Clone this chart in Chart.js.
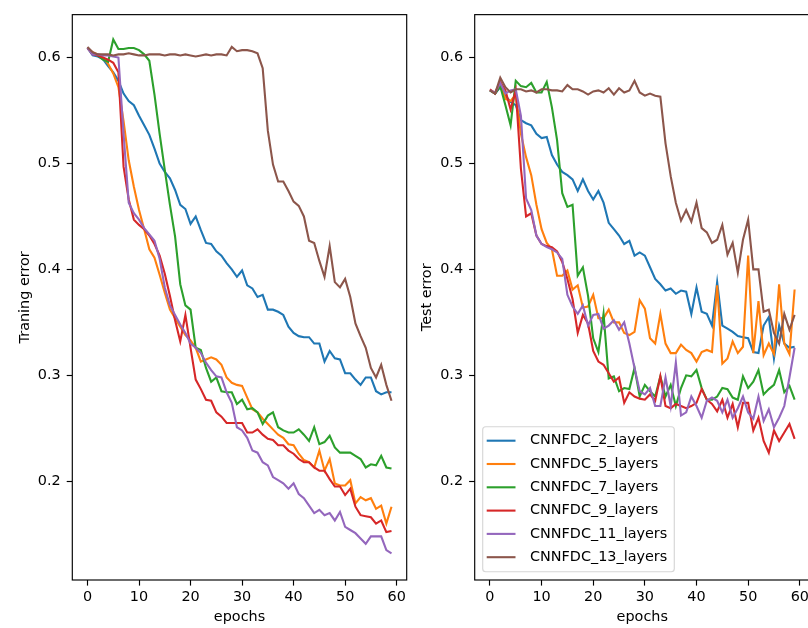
<!DOCTYPE html>
<html><head><meta charset="utf-8">
<script src="https://cdn.jsdelivr.net/npm/chart.js@4.4.1/dist/chart.umd.min.js"></script>
<style>
html,body{margin:0;padding:0;background:#fff;overflow:hidden;width:808px;height:628px;position:relative;}
canvas{position:absolute;top:0;}
#c1{left:0;} #c2{left:404px;}
</style></head><body>
<canvas id="c1" width="420" height="628"></canvas>
<canvas id="c2" width="408" height="628"></canvas>
<script>
const epochs = [0,1,2,3,4,5,6,7,8,9,10,11,12,13,14,15,16,17,18,19,20,21,22,23,24,25,26,27,28,29,30,31,32,33,34,35,36,37,38,39,40,41,42,43,44,45,46,47,48,49,50,51,52,53,54,55,56,57,58,59];
const seriesNames = ["CNNFDC_2_layers","CNNFDC_5_layers","CNNFDC_7_layers","CNNFDC_9_layers","CNNFDC_11_layers","CNNFDC_13_layers"];
const xTicks = [0,10,20,30,40,50,60];
const yTicks = [0.2,0.3,0.4,0.5,0.6];

// Training error
const train2 = [0.609,0.602,0.601,0.5985,0.592,0.586,0.578,0.566,0.559,0.555,0.545,0.536,0.527,0.514,0.500,0.492,0.486,0.475,0.461,0.457,0.443,0.450,0.437,0.425,0.424,0.417,0.413,0.406,0.400,0.393,0.399,0.385,0.382,0.374,0.376,0.362,0.362,0.360,0.357,0.346,0.340,0.337,0.336,0.336,0.330,0.330,0.313,0.323,0.316,0.315,0.302,0.302,0.296,0.291,0.298,0.298,0.285,0.282,0.284,0.284];
const train5 = [0.609,0.605,0.603,0.600,0.594,0.585,0.572,0.540,0.503,0.478,0.456,0.438,0.419,0.411,0.395,0.378,0.362,0.354,0.346,0.338,0.333,0.326,0.313,0.315,0.317,0.315,0.310,0.298,0.293,0.291,0.290,0.279,0.268,0.265,0.259,0.254,0.249,0.244,0.241,0.235,0.234,0.226,0.220,0.218,0.213,0.229,0.210,0.221,0.198,0.196,0.196,0.201,0.179,0.185,0.182,0.184,0.174,0.177,0.160,0.176];
const train7 = [0.609,0.604,0.602,0.598,0.596,0.617,0.608,0.608,0.609,0.609,0.607,0.603,0.597,0.565,0.528,0.494,0.461,0.431,0.386,0.366,0.362,0.326,0.324,0.307,0.294,0.298,0.285,0.284,0.284,0.273,0.277,0.268,0.269,0.265,0.254,0.262,0.265,0.251,0.248,0.246,0.246,0.249,0.244,0.238,0.251,0.235,0.237,0.243,0.232,0.227,0.227,0.227,0.224,0.221,0.213,0.216,0.215,0.224,0.213,0.212];
const train9 = [0.609,0.603,0.602,0.600,0.598,0.595,0.586,0.497,0.466,0.447,0.442,0.438,0.432,0.424,0.413,0.396,0.375,0.352,0.332,0.357,0.326,0.296,0.287,0.277,0.276,0.265,0.261,0.255,0.255,0.255,0.255,0.246,0.246,0.249,0.244,0.240,0.239,0.234,0.234,0.229,0.226,0.221,0.218,0.218,0.213,0.210,0.210,0.202,0.195,0.195,0.187,0.193,0.176,0.168,0.167,0.166,0.160,0.163,0.152,0.153];
const train11 = [0.609,0.603,0.603,0.602,0.602,0.601,0.600,0.528,0.463,0.453,0.447,0.439,0.433,0.427,0.410,0.383,0.366,0.357,0.348,0.340,0.330,0.326,0.321,0.312,0.305,0.299,0.298,0.284,0.274,0.251,0.248,0.241,0.229,0.227,0.218,0.215,0.204,0.201,0.198,0.193,0.198,0.188,0.184,0.177,0.170,0.173,0.168,0.170,0.163,0.171,0.157,0.154,0.151,0.146,0.141,0.148,0.148,0.148,0.135,0.132];
const train13 = [0.610,0.605,0.603,0.603,0.603,0.602,0.603,0.603,0.604,0.603,0.602,0.602,0.603,0.603,0.603,0.602,0.603,0.603,0.602,0.603,0.602,0.601,0.602,0.603,0.602,0.603,0.603,0.602,0.610,0.606,0.607,0.607,0.606,0.604,0.590,0.531,0.499,0.483,0.483,0.474,0.464,0.460,0.450,0.427,0.425,0.408,0.393,0.422,0.388,0.383,0.391,0.374,0.349,0.337,0.326,0.307,0.298,0.310,0.291,0.276];

// Test error
const test2 = [0.569,0.566,0.572,0.564,0.558,0.555,0.541,0.538,0.536,0.528,0.524,0.525,0.508,0.499,0.492,0.489,0.485,0.474,0.485,0.474,0.466,0.474,0.463,0.444,0.438,0.432,0.424,0.427,0.413,0.416,0.413,0.402,0.391,0.386,0.380,0.382,0.377,0.380,0.379,0.358,0.383,0.360,0.358,0.347,0.388,0.347,0.344,0.341,0.337,0.336,0.335,0.322,0.321,0.347,0.355,0.316,0.347,0.330,0.326,0.327];
const test5 = [0.569,0.567,0.577,0.561,0.559,0.565,0.528,0.506,0.489,0.461,0.438,0.425,0.419,0.394,0.394,0.399,0.381,0.385,0.364,0.365,0.376,0.354,0.354,0.362,0.350,0.350,0.340,0.338,0.341,0.371,0.363,0.335,0.330,0.358,0.330,0.321,0.321,0.329,0.324,0.321,0.313,0.322,0.324,0.322,0.385,0.311,0.316,0.332,0.321,0.327,0.413,0.321,0.370,0.319,0.330,0.320,0.386,0.330,0.320,0.381];
const test7 = [0.569,0.566,0.573,0.555,0.536,0.578,0.573,0.572,0.576,0.567,0.567,0.577,0.553,0.522,0.472,0.459,0.461,0.394,0.402,0.375,0.335,0.322,0.358,0.297,0.299,0.285,0.288,0.287,0.307,0.280,0.291,0.285,0.280,0.299,0.280,0.291,0.271,0.288,0.300,0.299,0.305,0.288,0.277,0.277,0.280,0.288,0.287,0.279,0.277,0.299,0.288,0.294,0.305,0.282,0.287,0.291,0.305,0.284,0.290,0.277];
const test9 = [0.570,0.566,0.577,0.569,0.551,0.569,0.495,0.450,0.453,0.432,0.424,0.422,0.421,0.417,0.407,0.391,0.372,0.340,0.357,0.349,0.323,0.313,0.310,0.302,0.294,0.298,0.274,0.284,0.280,0.278,0.277,0.282,0.276,0.299,0.271,0.269,0.273,0.271,0.269,0.271,0.274,0.287,0.277,0.273,0.266,0.277,0.260,0.273,0.251,0.274,0.274,0.248,0.260,0.238,0.227,0.248,0.238,0.246,0.254,0.240];
const test11 = [0.569,0.567,0.576,0.566,0.569,0.570,0.545,0.467,0.456,0.432,0.424,0.421,0.419,0.416,0.410,0.376,0.365,0.358,0.366,0.347,0.357,0.358,0.344,0.347,0.352,0.343,0.350,0.330,0.307,0.285,0.282,0.288,0.271,0.271,0.298,0.271,0.312,0.262,0.265,0.280,0.271,0.260,0.276,0.279,0.276,0.265,0.277,0.260,0.269,0.280,0.265,0.259,0.280,0.257,0.268,0.251,0.260,0.271,0.298,0.326];
const test13 = [0.569,0.566,0.581,0.572,0.567,0.570,0.570,0.568,0.569,0.567,0.570,0.570,0.569,0.569,0.568,0.574,0.570,0.570,0.568,0.565,0.568,0.569,0.567,0.571,0.565,0.571,0.567,0.569,0.578,0.567,0.564,0.566,0.564,0.563,0.519,0.488,0.463,0.446,0.456,0.445,0.463,0.439,0.435,0.425,0.428,0.442,0.414,0.425,0.397,0.428,0.447,0.400,0.400,0.360,0.362,0.340,0.330,0.358,0.343,0.357];

const colors = ["#1f77b4","#ff7f0e","#2ca02c","#d62728","#9467bd","#8c564b"];
const FS = 14.4;
Chart.defaults.font.family = "'DejaVu Sans', sans-serif";
Chart.defaults.font.size = FS;
Chart.defaults.color = "#000";

function makeDatasets(list){
  return list.map((vals,k)=>({
    label: seriesNames[k],
    data: epochs.map((e,i)=>({x:e, y:vals[i]})),
    borderColor: colors[k],
    backgroundColor: colors[k],
    borderWidth: 2.1,
    pointRadius: 0,
    pointHoverRadius: 0,
    tension: 0,
    fill: false,
    order: list.length - k
  }));
}

const framePlugin = {
  id:'frame',
  afterDatasetsDraw(chart){
    const {ctx, chartArea:{left,top,right,bottom}} = chart;
    ctx.save();
    ctx.strokeStyle = '#000';
    ctx.lineWidth = 1.15;
    ctx.strokeRect(left, top, right-left, bottom-top);
    ctx.restore();
  }
};

const legendPlugin = {
  id:'mplLegend',
  afterDraw(chart){
    const ctx = chart.ctx, ca = chart.chartArea;
    const ds = chart.data.datasets;
    const w = 191.6, h = 145, rowH = 23.3;
    const x0 = ca.left + 8, y1 = ca.bottom - 8.3, y0 = y1 - h;
    const r = 3;
    ctx.save();
    ctx.beginPath();
    ctx.moveTo(x0+r, y0);
    ctx.lineTo(x0+w-r, y0); ctx.quadraticCurveTo(x0+w, y0, x0+w, y0+r);
    ctx.lineTo(x0+w, y0+h-r); ctx.quadraticCurveTo(x0+w, y0+h, x0+w-r, y0+h);
    ctx.lineTo(x0+r, y0+h); ctx.quadraticCurveTo(x0, y0+h, x0, y0+h-r);
    ctx.lineTo(x0, y0+r); ctx.quadraticCurveTo(x0, y0, x0+r, y0);
    ctx.closePath();
    ctx.fillStyle = 'rgba(255,255,255,0.8)';
    ctx.fill();
    ctx.strokeStyle = 'rgba(204,204,204,0.8)';
    ctx.lineWidth = 1.15;
    ctx.stroke();
    ctx.font = FS + "px 'DejaVu Sans'";
    ctx.textBaseline = 'middle';
    ctx.textAlign = 'left';
    ds.forEach((d,k)=>{
      const cy = y0 + 14 + k*rowH;
      ctx.strokeStyle = d.borderColor;
      ctx.lineWidth = 2.1;
      ctx.beginPath();
      ctx.moveTo(x0+4, cy); ctx.lineTo(x0+32.8, cy);
      ctx.stroke();
      ctx.fillStyle = '#000';
      ctx.fillText(d.label, x0+47.3, cy);
    });
    ctx.restore();
  }
};

function makeOptions(yTitle, yWidth, padRight, titlePad){
  return {
    responsive:false, animation:false, devicePixelRatio:1,
    layout:{padding:{top:10,right:padRight,left:0,bottom:0}, autoPadding:false},
    plugins:{legend:{display:false}, tooltip:{enabled:false}},
    events:[],
    scales:{
      x:{
        type:'linear', min:-2.95, max:61.95,
        afterBuildTicks:(s)=>{ s.ticks = xTicks.map(v=>({value:v})); },
        afterFit:(s)=>{ s.height = 48; },
        ticks:{autoSkip:false, maxRotation:0, padding:3, color:'#000', callback:(v)=>String(v)},
        grid:{display:true, drawOnChartArea:false, drawTicks:true, tickLength:5.6, tickWidth:1.15, tickColor:'#000'},
        border:{display:false},
        title:{display:true, text:'epochs', color:'#000', padding:{top:0,bottom:2}}
      },
      y:{
        type:'linear', min:0.1068, max:0.6405,
        afterBuildTicks:(s)=>{ s.ticks = yTicks.map(v=>({value:v})); },
        afterFit:(s)=>{ s.width = yWidth; },
        ticks:{autoSkip:false, padding:6, color:'#000', callback:(v)=>Number(v).toFixed(1)},
        grid:{display:true, drawOnChartArea:false, drawTicks:true, tickLength:5.6, tickWidth:1.15, tickColor:'#000'},
        border:{display:false},
        title:{display:true, text:yTitle, color:'#000', padding:{top:titlePad,bottom:0}}
      }
    }
  };
}

new Chart(document.getElementById('c1'), {
  type:'line',
  data:{datasets: makeDatasets([train2,train5,train7,train9,train11,train13])},
  options: makeOptions('Traning error', 72.3, 13.3, 16.6),
  plugins:[framePlugin]
});
new Chart(document.getElementById('c2'), {
  type:'line',
  data:{datasets: makeDatasets([test2,test5,test7,test9,test11,test13])},
  options: makeOptions('Test error', 70.7, 2, 15),
  plugins:[framePlugin, legendPlugin]
});
</script>
</body></html>
